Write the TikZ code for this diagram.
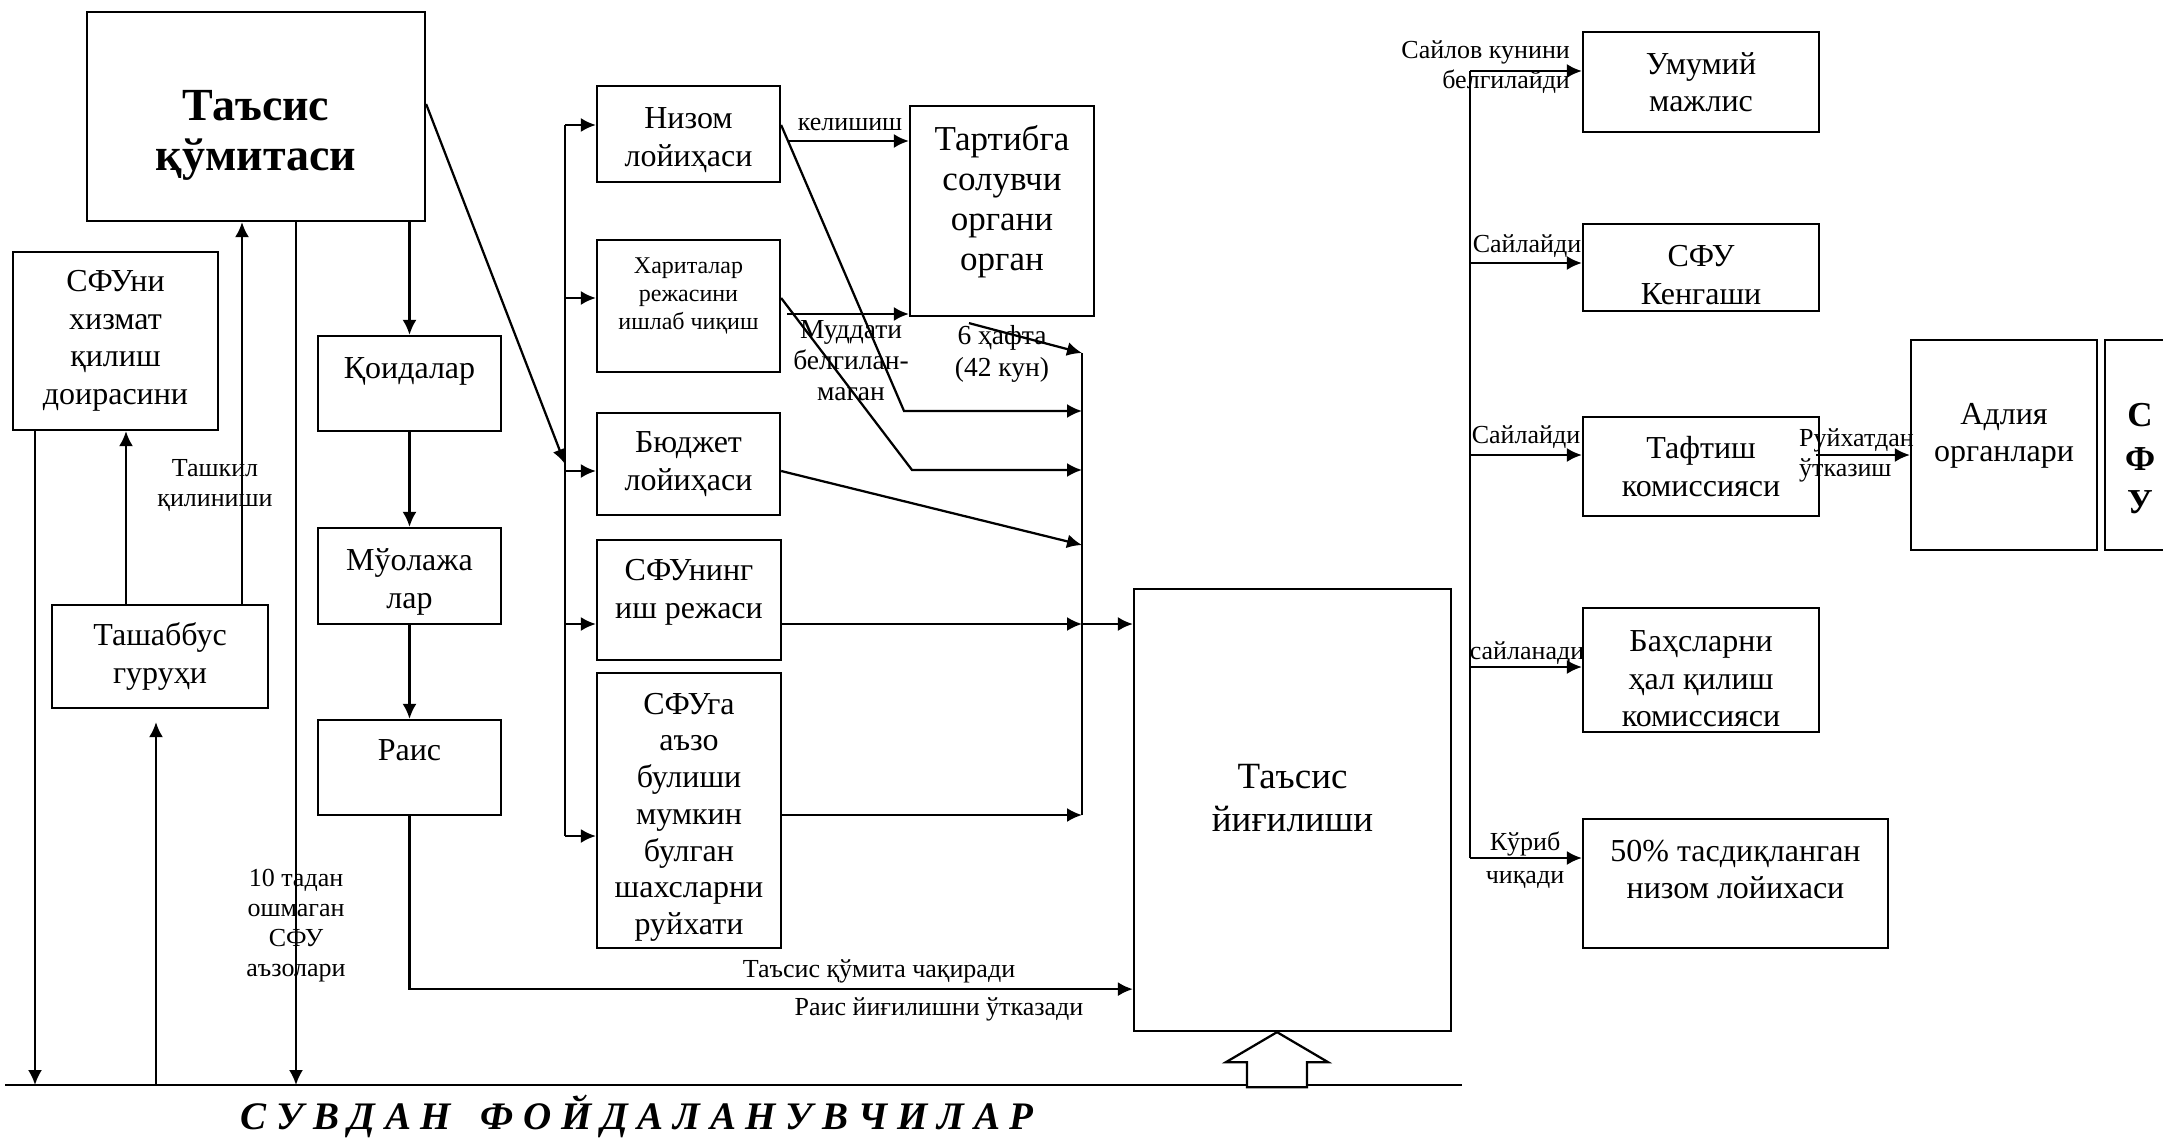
\documentclass[tikz,border=0pt]{standalone}
\usepackage{fontspec}
\setmainfont{Liberation Serif}
\usepackage{tikz}
\usetikzlibrary{calc,arrows.meta}

\begin{document}
\begin{tikzpicture}[x=0.4pt, y=-0.4pt, line width=0.9pt,
    box/.style={draw, rectangle, inner sep=0pt, align=center, font=\fontsize{12.8}{15}\selectfont},
    wh/.style 2 args={minimum width=#1*0.4pt, minimum height=#2*0.4pt},
    lbl/.style={inner sep=0pt, align=center, font=\fontsize{10.4}{12}\selectfont},
    arr/.style={-{Latex[length=6pt, width=5.6pt]}}]
        \useasboundingbox (0,0) rectangle (2163,1138);
        \clip (0,0) rectangle (2163,1138);

        % left column
        \node[box, wh={338}{209}, font=\fontsize{18.4}{20}\selectfont\bfseries] (tk) at (256,116.5) {~\\[7.3pt]Таъсис\\қўмитаси};
        \node[box, wh={205}{178}] (sfuni) at (115.5,341) {СФУни\\хизмат\\қилиш\\доирасини};
        \node[box, wh={216}{103}] (tash) at (160,656.5) {Ташаббус\\гуруҳи};
        \node[box, wh={183}{95}] (koida) at (409.5,383.5) {Қоидалар\\[-2.6pt]~};
        \node[box, wh={183}{96}] (muol) at (409.5,576) {~\\[-1.6pt]Мўолажа\\лар};
        \node[box, wh={183}{95}] (rais) at (409.5,767.5) {Раис\\[-1pt]~};

        \node[lbl] (l-tashkil) at (215,485) {Ташкил\\қилиниши};
        \node[lbl] (l-azo) at (296,926) {10 тадан\\ошмаган\\СФУ\\аъзолари};

        % middle column
        \node[box, wh={183}{96}] (nizom) at (688.5,134) {~\\[-1.6pt]Низом\\лойиҳаси};
        \node[box, wh={183}{132}, font=\fontsize{9.6}{11.2}\selectfont] (harita) at (688.5,306) {Хариталар\\режасини\\ишлаб чиқиш\\[-1.2pt]~};
        \node[box, wh={183}{102}] (budget) at (688.5,464) {Бюджет\\лойиҳаси};
        \node[box, wh={184}{120}] (sfuning) at (689,600) {СФУнинг\\иш режаси\\[-6.2pt]~};
        \node[box, wh={184}{275}, font=\fontsize{12.8}{14.7}\selectfont] (sfuga) at (689,810.5) {~\\[-0.9pt]СФУга\\аъзо\\булиши\\мумкин\\булган\\шахсларни\\руйхати};
        \node[box, wh={184}{210}, font=\fontsize{14}{16}\selectfont] (tartib) at (1002,211) {Тартибга\\солувчи\\органи\\орган\\[-5.6pt]~};
        \node[box, wh={317}{442}, font=\fontsize{14.8}{17.2}\selectfont] (ty) at (1292.5,810) {Таъсис\\йиғилиши\\[-7.6pt]~};

        \node[lbl] (l-kel) at (850,125) {келишиш};
        \node[lbl, font=\fontsize{11}{12.4}\selectfont] (l-mud) at (851,361) {Муддати\\белгилан-\\маган};
        \node[lbl, font=\fontsize{11}{12.8}\selectfont] (l-hafta) at (1002,354) {6 ҳафта\\(42 кун)};
        \node[lbl] (l-chaq) at (879,971) {Таъсис қўмита чақиради};
        \node[lbl] (l-otk) at (939,1009) {Раис йиғилишни ўтказади};

        % right column
        \node[box, wh={236}{100}] (umumiy) at (1701,82) {Умумий\\мажлис};
        \node[box, wh={236}{87}] (kengash) at (1701,267.5) {~\\[-0.4pt]СФУ\\Кенгаши};
        \node[box, wh={236}{99}] (taftish) at (1701,466.5) {Тафтиш\\комиссияси};
        \node[box, wh={236}{124}] (bahs) at (1701,670) {~\\[0.6pt]Баҳсларни\\ҳал қилиш\\комиссияси};
        \node[box, wh={305}{129}] (nizom50) at (1735.5,883.5) {50\% тасдиқланган\\низом лойихаси\\[-3.8pt]~};
        \node[box, wh={186}{210}] (adliya) at (2004,445) {Адлия\\органлари\\[-5pt]~};
        \node[box, wh={70}{210}, font=\fontsize{14}{17.5}\selectfont\bfseries] (sfu) at (2140,445) {~\\[2.7pt]С\\Ф\\У};

        \node[lbl, anchor=east, align=right] (l-sk) at (1571,67) {Сайлов кунини\\белгилайди};
        \node[lbl] (l-s1) at (1527,246) {Сайлайди};
        \node[lbl] (l-s2) at (1526,437) {Сайлайди};
        \node[lbl] (l-sn) at (1527,653) {сайланади};
        \node[lbl, font=\fontsize{10.4}{13.2}\selectfont] (l-kur) at (1525,860) {Кўриб\\чиқади};
        \node[lbl, anchor=west, align=left] (l-ruy) at (1798,455) {Руйхатдан\\ўтказиш};

        \node[font=\fontsize{15.6}{18}\selectfont\bfseries\itshape] (users) at (637,1116) {С У В Д А Н \ \ Ф О Й Д А Л А Н У В Ч И Л А Р};

        % base line and buses
        \coordinate (bl) at (5,1085);
        \coordinate (br) at (1462,1085);
        \coordinate (b1) at (35,1085);
        \coordinate (b2) at (156,1085);
        \coordinate (b3) at (296,1085);
        \coordinate (busT) at (565,125);
        \coordinate (busB) at (565,836);
        \coordinate (bus2T) at (1082,353);
        \coordinate (bus2B) at (1082,815);
        \coordinate (bus3T) at (1470,71);
        \coordinate (bus3B) at (1470,858);
        \coordinate (k1) at (904,411);
        \coordinate (k2) at (912,470);

        \draw (bl) -- (br);
        \draw[arr] (sfuni.south -| b1) -- (b1);
        \draw[arr] (b2) -- ($(tash.south -| b2)+(0,13)$);
        \draw[arr] (tk.south -| b3) -- (b3);
        \draw[arr] ($(tash.north)+(-34,0)$) -- ($(sfuni.south)+(10.5,0)$);
        \draw[arr] ($(tash.north)+(82,0)$) -- ($(tk.south)+(-14,0)$);
        \draw[arr] (tk.south -| koida.north) -- (koida.north);
        \draw[arr] (koida) -- (muol);
        \draw[arr] (muol) -- (rais);
        \draw[arr] (rais.south) |- ($(ty.south west)+(0,-43)$);

        \draw[arr] ($(tk.east)+(0,-12.5)$) -- (busT |- budget.west);
        \draw (busT) -- (busB);
        \draw[arr] (busT) -- (busT -| nizom.west);
        \draw[arr] ($(harita.west -| busT)+(0,-8)$) -- ($(harita.west)+(0,-8)$);
        \draw[arr] ($(budget.west -| busT)+(0,7)$) -- ($(budget.west)+(0,7)$);
        \draw[arr] ($(sfuning.west -| busT)+(0,24)$) -- ($(sfuning.west)+(0,24)$);
        \draw[arr] (busB) -- (busB -| sfuga.west);

        \draw[arr] ($(nizom.east)+(7,7)$) -- ($(nizom.east -| tartib.west)+(0,7)$);
        \draw[arr] ($(harita.east)+(6,8)$) -- ($(harita.east -| tartib.west)+(0,8)$);
        \draw[arr] ($(nizom.east)+(0,-9)$) -- (k1) -- (k1 -| bus2T);
        \draw[arr] ($(harita.east)+(0,-8)$) -- (k2) -- (k2 -| bus2T);
        \draw[arr] ($(budget.east)+(0,7)$) -- ($(budget.east -| bus2T)+(0,81)$);
        \draw[arr] ($(sfuning.east)+(0,24)$) -- ($(sfuning.east -| bus2T)+(0,24)$);
        \draw[arr] ($(sfuning.east -| bus2T)+(0,24)$) -- ($(sfuning.east -| ty.west)+(0,24)$);
        \draw[arr] ($(sfuga.east)+(0,4.5)$) -- (bus2B);
        \draw[arr] ($(tartib.south)+(-33,6)$) -- (bus2T);
        \draw (bus2T) -- (bus2B);

        \draw (bus3T) -- (bus3B);
        \draw[arr] (bus3T) -- (bus3T -| umumiy.west);
        \draw[arr] ($(kengash.west -| bus3T)+(0,-4.5)$) -- ($(kengash.west)+(0,-4.5)$);
        \draw[arr] ($(taftish.west -| bus3T)+(0,-11.5)$) -- ($(taftish.west)+(0,-11.5)$);
        \draw[arr] ($(bahs.west -| bus3T)+(0,-3)$) -- ($(bahs.west)+(0,-3)$);
        \draw[arr] (bus3B) -- (bus3B -| nizom50.west);
        \draw[arr] ($(taftish.east)+(-4,-11.5)$) -- ($(taftish.east -| adliya.west)+(0,-11.5)$);

        % hollow arrow from the users up to the meeting
        \coordinate (tip) at ($(ty.south)+(-15.5,0)$);
        \draw[fill=white] (tip) -- ++(51,30) -- ++(-21,0) -- ++(0,25) -- ++(-60,0) -- ++(0,-25) -- ++(-21,0) -- cycle;
    \end{tikzpicture}
\end{document}
